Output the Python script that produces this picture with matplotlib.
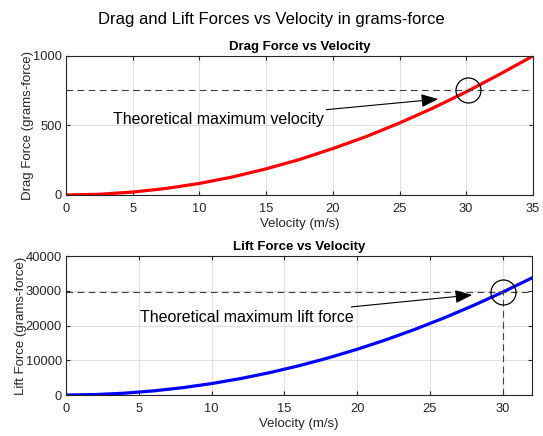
import matplotlib.pyplot as plt

plt.rcParams['font.family'] = ['Liberation Sans', 'DejaVu Sans']

# drag force curve (grams-force)
drag_velocity = [0, 2.5, 5, 7.5, 10, 12.5, 15, 17.5, 20, 22.5, 25, 27.5, 30, 32.5, 35]
drag_force = [0, 5, 21, 47, 83, 130, 188, 255, 334, 420, 518, 625, 742, 868, 1000]
max_velocity = 30.15
max_drag = 752

# lift force curve (grams-force)
lift_velocity = [0, 2, 4, 6, 8, 10, 12, 14, 16, 18, 20, 22, 24, 26, 28, 30, 32]
lift_force = [0, 132, 526, 1184, 2106, 3290, 4738, 6448, 8422, 10660,
              13160, 15924, 18950, 22241, 25794, 29610, 33690]
max_lift_velocity = 30
max_lift = 29610

fig = plt.figure(figsize=(5.43, 4.36), dpi=100)
ax1 = fig.add_axes([0.1215, 0.5528, 0.860, 0.3188])
ax2 = fig.add_axes([0.1215, 0.094, 0.858, 0.3188])

fig.suptitle("Drag and Lift Forces vs Velocity in grams-force", fontsize=12, y=0.972)

def style(ax):
    ax.grid(True, color='#e0e0e0', linewidth=0.8)
    ax.set_axisbelow(True)
    ax.tick_params(direction='in', top=True, right=True, labelsize=9.3,
                   colors='#262626', length=3)
    ax.tick_params(axis='x', pad=6)
    ax.tick_params(axis='y', pad=3)
    for s in ax.spines.values():
        s.set_color('#262626')
        s.set_linewidth(0.8)

arrow = dict(arrowstyle='-|>,head_length=0.9,head_width=0.35', color='black',
             lw=0.8, shrinkA=0, shrinkB=0)

# Drag
ax1.plot(drag_velocity, drag_force, color='red', linewidth=2.3)
ax1.axhline(max_drag, color='#404040', linestyle=(0, (6, 4)), linewidth=0.8)
ax1.plot(max_velocity, max_drag, 'o', markersize=18, markerfacecolor='none',
         markeredgecolor='black', markeredgewidth=0.9)
ax1.annotate("Theoretical maximum velocity", xy=(27.9, 690), xytext=(19.3, 540),
             fontsize=11.5, ha='right', va='center', arrowprops=arrow)
ax1.set_xlim(0, 35)
ax1.set_ylim(0, 1000)
ax1.set_xticks(range(0, 36, 5))
ax1.set_yticks([0, 500, 1000])
ax1.set_title("Drag Force vs Velocity", fontsize=9.5, fontweight='bold', pad=4)
ax1.set_xlabel("Velocity (m/s)", fontsize=9.5, color='#262626', labelpad=2)
ax1.set_ylabel("Drag Force (grams-force)", fontsize=9.5, color='#262626', labelpad=-1)
style(ax1)

# Lift
ax2.plot(lift_velocity, lift_force, color='blue', linewidth=2.3)
ax2.axhline(max_lift, color='#404040', linestyle=(0, (6, 4)), linewidth=0.8)
ax2.plot([max_lift_velocity, max_lift_velocity], [0, max_lift], color='#404040',
         linestyle=(0, (6, 4)), linewidth=0.8)
ax2.plot(max_lift_velocity, max_lift, 'o', markersize=18, markerfacecolor='none',
         markeredgecolor='black', markeredgewidth=0.9)
ax2.annotate("Theoretical maximum lift force", xy=(27.9, 28800), xytext=(19.8, 22400),
             fontsize=11.5, ha='right', va='center', arrowprops=arrow)
ax2.set_xlim(0, 32)
ax2.set_ylim(0, 40000)
ax2.set_xticks(range(0, 31, 5))
ax2.set_yticks(range(0, 40001, 10000))
ax2.set_title("Lift Force vs Velocity", fontsize=9.5, fontweight='bold', pad=4)
ax2.set_xlabel("Velocity (m/s)", fontsize=9.5, color='#262626', labelpad=2)
ax2.set_ylabel("Lift Force (grams-force)", fontsize=9.5, color='#262626', labelpad=-1)
style(ax2)

fig.savefig("out.png", dpi=100)
